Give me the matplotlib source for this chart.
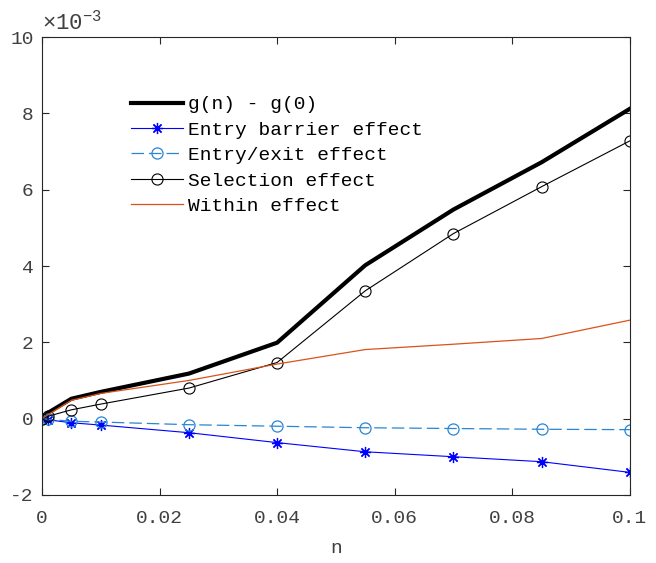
import numpy as np
import matplotlib
matplotlib.use('Agg')
import matplotlib.pyplot as plt
from matplotlib.ticker import FuncFormatter

plt.rcParams['font.family'] = 'Liberation Mono'
plt.rcParams['mathtext.fontset'] = 'custom'
plt.rcParams['mathtext.rm'] = 'Liberation Mono'
plt.rcParams['axes.unicode_minus'] = False

# data (y values in units of 1e-3)
n = [0, 0.001, 0.005, 0.01, 0.025, 0.04, 0.055, 0.07, 0.085, 0.1]
g_total = [0, 0.15, 0.52, 0.70, 1.18, 1.99, 4.02, 5.48, 6.72, 8.12]
entry_barrier = [0, -0.03, -0.11, -0.17, -0.37, -0.63, -0.87, -1.0, -1.13, -1.41]
entry_exit = [0, -0.02, -0.07, -0.09, -0.16, -0.2, -0.24, -0.26, -0.28, -0.29]
selection = [0, 0.06, 0.23, 0.38, 0.80, 1.47, 3.35, 4.85, 6.08, 7.28]
within = [0, 0.10, 0.48, 0.66, 1.0, 1.43, 1.81, 1.95, 2.10, 2.58]

fig = plt.figure(figsize=(6.56, 5.63), dpi=100)
ax = fig.add_axes([0.064, 0.121, 0.896, 0.813])

ax.plot(n, g_total, color='k', lw=3, label='g(n) - g(0)')
ax.plot(n, entry_barrier, color='b', lw=0.8, marker=(8, 2, 0), ms=8, mew=0.9,
        label='Entry barrier effect')
ax.plot(n, entry_exit, color='#2a85d4', lw=0.9, ls=(0, (10, 4)), marker='o', ms=8,
        mfc='none', mew=0.9, label='Entry/exit effect')
ax.plot(n, selection, color='k', lw=0.8, marker='o', ms=8, mfc='none', mew=0.8,
        label='Selection effect')
ax.plot(n, within, color='#D95319', lw=0.9, label='Within effect')

ax.set_xlim(0, 0.1)
ax.set_ylim(-2, 10)
ax.set_xticks([0, 0.02, 0.04, 0.06, 0.08, 0.1])
ax.set_yticks(np.arange(-2, 11, 2))
ax.xaxis.set_major_formatter(FuncFormatter(lambda v, p: '%g' % round(v, 4)))
ax.yaxis.set_major_formatter(FuncFormatter(lambda v, p: '%g' % v))
ax.text(0.0, 1.005, r'$\times$10$^{-3}$', transform=ax.transAxes, fontsize=16,
        color='#404040', ha='left', va='bottom')

ax.tick_params(direction='in', top=True, right=True, length=5, width=0.8,
               labelsize=14, colors='#262626', labelcolor='#404040')
ax.tick_params(axis='x', pad=11)
ax.tick_params(axis='y', pad=6)
for s in ax.spines.values():
    s.set_linewidth(0.8)
    s.set_color('#262626')

ax.set_xlabel('n', fontsize=14, color='#404040', labelpad=9)

leg = ax.legend(loc='upper left', bbox_to_anchor=(0.138, 0.889), frameon=False,
                fontsize=14, handlelength=2.7, handletextpad=0.25,
                labelspacing=0.4, borderaxespad=0)

fig.savefig('out.png', dpi=100)
